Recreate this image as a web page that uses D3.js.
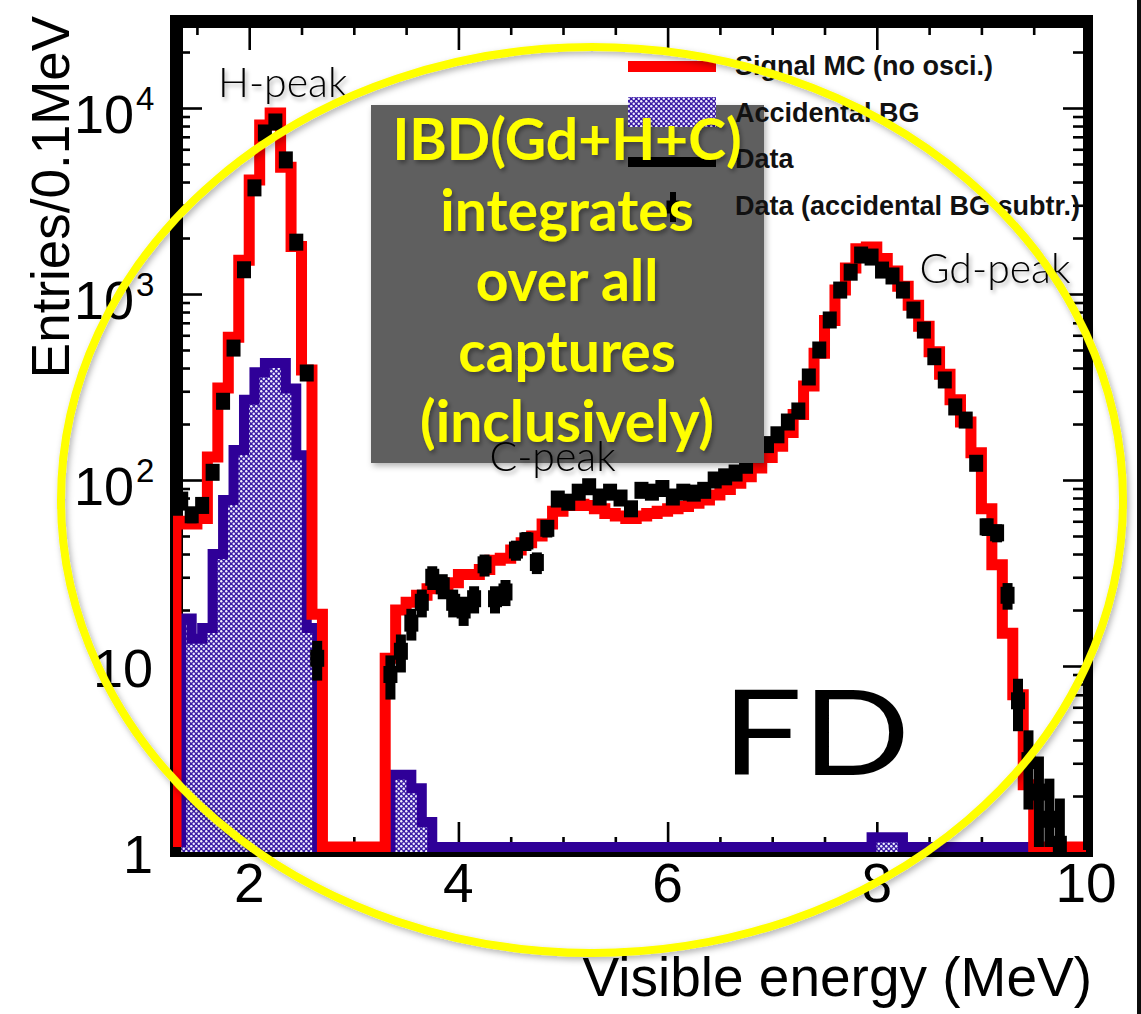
<!DOCTYPE html>
<html>
<head>
<meta charset="utf-8">
<script src="https://cdn.jsdelivr.net/npm/d3@7"></script>
<style>
  body { margin: 0; background: #fff; }
  svg { display: block; }
</style>
</head>
<body>
<svg id="chart" width="1141" height="1014"></svg>
<script>
// ---- data: entries per 0.1 MeV bin ----
const binWidth = 0.1;
const histStart = 1.3;          // first bin low edge of MC and data (MeV)
const bgStart = 1.35;           // first bin low edge of accidental BG (MeV)

const signalMC = [
  60, 58, 62, 133, 312, 586, 1520, 4100, 8100, 9400, 4800, 1800, 390, 19,
  0, 0, 0, 0, 0, 0,
  11, 20, 22, 24, 26, 27, 28, 31, 31, 33,
  37, 38, 42, 46, 50, 58, 68, 73, 74, 73,
  70, 66, 64, 62, 64, 66, 68, 70, 72, 75,
  78, 83, 89, 96, 104, 116, 132, 152, 180, 225,
  320, 480, 720, 1050, 1380, 1750, 1790, 1550, 1330, 1100,
  870, 670, 490, 370, 270, 205, 140, 70, 35, 15,
  7, 2.3, 0, 0, 0, 0, 0
];

const dataCounts = [
  78, 65, 73, 110, 265, 512, 1350, 3720, 7340, 8410, 5260, 1900, 376, 11,
  0, 0, 0, 0, 0, 0,
  9, 12, 17, 22, 30, 27, 22, 20, 23, 35,
  23, 25, 42, 47, 36, 55, 79, 76, 86, 92,
  81, 86, 80, 70, 88, 86, 90, 81, 86, 85,
  88, 100, 104, 109, 120, 137, 155, 175, 205, 235,
  358, 500, 725, 1050, 1310, 1620, 1580, 1345, 1250, 1050,
  820, 640, 460, 345, 247, 210, 123, 56, 52, 24,
  6.5, 3.1, 2.1, 1.5, 1.1, 0, 0
];

const accidentalBG = [
  18, 14, 16, 40, 78, 145, 270, 380, 425, 425, 310, 136, 16,
  0, 0, 0, 0, 0, 0, 0,
  2.6, 2.6, 2.2, 1.45,
  0, 0, 0, 0, 0, 0, 0, 0, 0, 0,
  0, 0, 0, 0, 0, 0, 0, 0, 0, 0,
  0, 0, 0, 0, 0, 0, 0, 0, 0, 0,
  0, 0, 0, 0, 0, 0, 0, 0, 0, 0,
  0, 0,
  1.2, 1.2, 1.2,
  0, 0, 0, 0, 0, 0, 0, 0, 0, 0,
  0, 0, 0, 0, 0, 0, 0
];

const xMajorTicks = [2, 4, 6, 8, 10];
const xMinorTicks = [1.5, 2.5, 3, 3.5, 4.5, 5, 5.5, 6.5, 7, 7.5, 8.5, 9, 9.5];
const yMajorTicks = [1, 10, 100, 1000, 10000];
const yLabels = ["1", "10", "10^2", "10^3", "10^4"];

const legendItems = ["Signal MC (no osci.)", "Accidental BG", "Data", "Data (accidental BG subtr.)"];
const boxLines = ["IBD(Gd+H+C)", "integrates", "over all", "captures", "(inclusively)"];
const peakLabels = [
  { text: "H-peak", e: 2.32, v: 11450 },
  { text: "C-peak", e: 4.90, v: 112 },
  { text: "Gd-peak", e: 9.13, v: 1150 }
];

// ---- scales ----
const x = d3.scaleLinear().domain([1.3, 10]).range([176, 1086]);
const y = d3.scaleLog().domain([1, 29000]).range([852, 22]).clamp(true);
const yBottom = y.range()[0];
const floorY = yBottom - 5;                 // empty bins sit on the frame floor
const yv = v => (v > 0 ? Math.min(y(v), floorY) : floorY);
const errHalf = v => 0.8 * Math.sqrt(v);   // drawn half-length of the error bar

const svg = d3.select("#chart");
const defs = svg.append("defs");

// dotted hatch for the accidental background
const pat = defs.append("pattern").attr("id", "bgdots")
  .attr("patternUnits", "userSpaceOnUse").attr("width", 5).attr("height", 5);
pat.append("rect").attr("width", 5).attr("height", 5).attr("fill", "#3a1aa6");
pat.append("circle").attr("cx", 1.25).attr("cy", 1.25).attr("r", 1.2).attr("fill", "#f2f0ff");
pat.append("circle").attr("cx", 3.75).attr("cy", 3.75).attr("r", 1.2).attr("fill", "#f2f0ff");

defs.append("clipPath").attr("id", "plotclip")
  .append("rect").attr("x", 173).attr("y", 22).attr("width", 914).attr("height", 830);

const shadow = defs.append("filter").attr("id", "shadow")
  .attr("x", "-20%").attr("y", "-20%").attr("width", "140%").attr("height", "140%");
shadow.append("feDropShadow").attr("dx", 2).attr("dy", 3).attr("stdDeviation", 2.2)
  .attr("flood-color", "#000").attr("flood-opacity", 0.35);

const softShadow = defs.append("filter").attr("id", "softshadow")
  .attr("x", "-10%").attr("y", "-10%").attr("width", "120%").attr("height", "120%");
softShadow.append("feDropShadow").attr("dx", 2).attr("dy", 3).attr("stdDeviation", 3)
  .attr("flood-color", "#000").attr("flood-opacity", 0.3);

// ---- frame ----
const frame = svg.append("g");
frame.append("line").attr("x1", 176.5).attr("x2", 176.5).attr("y1", 15).attr("y2", 857)
  .attr("stroke", "#000").attr("stroke-width", 13);
frame.append("line").attr("x1", 170).attr("x2", 1093).attr("y1", 21.5).attr("y2", 21.5)
  .attr("stroke", "#000").attr("stroke-width", 13);
frame.append("line").attr("x1", 1088).attr("x2", 1088).attr("y1", 15).attr("y2", 857)
  .attr("stroke", "#000").attr("stroke-width", 10);
frame.append("line").attr("x1", 170).attr("x2", 1093).attr("y1", 854.5).attr("y2", 854.5)
  .attr("stroke", "#000").attr("stroke-width", 5);

// ---- ticks (inside the frame) ----
function tickAxis(axis, transform, size, values) {
  const g = svg.append("g").attr("transform", transform)
    .call(axis.tickValues(values).tickSize(size).tickFormat(""));
  g.select(".domain").remove();
  g.selectAll(".tick line").attr("stroke", "#000").attr("stroke-width", 2.6);
  return g;
}
const yMinorTicks = [];
for (let d = 1; d <= 10000; d *= 10) for (let m = 2; m <= 9; m++) if (m * d < 29000) yMinorTicks.push(m * d);

tickAxis(d3.axisTop(x), "translate(0,852)", 30, xMajorTicks);
tickAxis(d3.axisTop(x), "translate(0,852)", 15, xMinorTicks);
tickAxis(d3.axisBottom(x), "translate(0,28)", 22, xMajorTicks);
tickAxis(d3.axisBottom(x), "translate(0,28)", 7, xMinorTicks);
tickAxis(d3.axisRight(y), "translate(182,0)", 20, yMajorTicks);
tickAxis(d3.axisRight(y), "translate(182,0)", 8, yMinorTicks);
tickAxis(d3.axisLeft(y), "translate(1083,0)", 20, yMajorTicks);
tickAxis(d3.axisLeft(y), "translate(1083,0)", 10, yMinorTicks);

// ---- tick labels ----
const labelFont = "'Liberation Sans', Arial, Helvetica, sans-serif";
svg.append("g").selectAll("text").data(xMajorTicks).join("text")
  .attr("x", d => x(d)).attr("y", 902)
  .attr("text-anchor", "middle").attr("font-family", labelFont).attr("font-size", 55)
  .text(d => d);

const yl = svg.append("g").attr("font-family", labelFont);
yMajorTicks.forEach((t, i) => {
  const lab = yLabels[i];
  const ty = y(t);
  if (lab.includes("^")) {
    const [base, exp] = lab.split("^");
    yl.append("text").attr("x", 134).attr("y", ty + 25).attr("text-anchor", "end")
      .attr("font-size", 54).text(base);
    yl.append("text").attr("x", 136).attr("y", ty + 2).attr("font-size", 33).text(exp);
  } else {
    yl.append("text").attr("x", 153).attr("y", ty + 21).attr("text-anchor", "end")
      .attr("font-size", 54).text(lab);
  }
});

// axis titles
svg.append("text").attr("transform", "translate(69,197) rotate(-90)")
  .attr("text-anchor", "middle").attr("font-family", labelFont).attr("font-size", 53)
  .text("Entries/0.1MeV");
svg.append("text").attr("x", 1092).attr("y", 996).attr("text-anchor", "end")
  .attr("font-family", labelFont).attr("font-size", 55)
  .text("Visible energy (MeV)");

// ---- histograms ----
function stepPath(start, vals) {
  const p = d3.path();
  p.moveTo(x(start), floorY);
  vals.forEach((v, i) => {
    const x0 = x(start + i * binWidth), x1 = x(start + (i + 1) * binWidth);
    p.lineTo(x0, yv(v));
    p.lineTo(x1, yv(v));
  });
  p.lineTo(x(start + vals.length * binWidth), floorY);
  return p.toString();
}

const plot = svg.append("g").attr("clip-path", "url(#plotclip)");

const bgPath = stepPath(bgStart, accidentalBG);
const bgEnd = x(bgStart + accidentalBG.length * binWidth);
plot.append("path")
  .attr("d", bgPath + `L${bgEnd},${yBottom}L${x(bgStart)},${yBottom}Z`)
  .attr("fill", "url(#bgdots)");
plot.append("path").attr("d", bgPath).attr("fill", "none")
  .attr("stroke", "#2f0098").attr("stroke-width", 10).attr("stroke-linejoin", "miter");

plot.append("path").attr("d", stepPath(histStart, signalMC)).attr("fill", "none")
  .attr("stroke", "#ff0000").attr("stroke-width", 11).attr("stroke-linejoin", "miter");

// data points with error bars
const pts = dataCounts.map((v, i) => ({ e: histStart + (i + 0.5) * binWidth, v }))
  .filter(d => d.v > 0);
const dataG = plot.append("g");
dataG.selectAll("line.ex").data(pts).join("line").attr("class", "ex")
  .attr("x1", d => x(d.e - binWidth / 2)).attr("x2", d => x(d.e + binWidth / 2))
  .attr("y1", d => yv(d.v)).attr("y2", d => yv(d.v))
  .attr("stroke", "#000").attr("stroke-width", 7);
dataG.selectAll("line.ey").data(pts).join("line").attr("class", "ey")
  .attr("x1", d => x(d.e)).attr("x2", d => x(d.e))
  .attr("y1", d => yv(d.v - errHalf(d.v))).attr("y2", d => yv(d.v + errHalf(d.v)))
  .attr("stroke", "#000").attr("stroke-width", 10);
dataG.selectAll("rect").data(pts).join("rect")
  .attr("x", d => x(d.e) - 7).attr("y", d => yv(d.v) - 8.5)
  .attr("width", 14).attr("height", 17).attr("fill", "#000");

// ---- annotation box ----
svg.append("rect").attr("x", 371).attr("y", 105).attr("width", 393).attr("height", 358)
  .attr("fill", "#5f5f5f").attr("filter", "url(#softshadow)");

// ---- legend ----
const lg = svg.append("g");
lg.append("rect").attr("x", 628).attr("y", 61).attr("width", 88).attr("height", 11).attr("fill", "#ff0000");
lg.append("rect").attr("x", 628).attr("y", 97).attr("width", 88).attr("height", 30).attr("fill", "url(#bgdots)");
lg.append("rect").attr("x", 628).attr("y", 157).attr("width", 88).attr("height", 10).attr("fill", "#000");
lg.append("line").attr("x1", 673).attr("x2", 673).attr("y1", 192).attr("y2", 222)
  .attr("stroke", "#000").attr("stroke-width", 6);
lg.append("rect").attr("x", 666.5).attr("y", 200.5).attr("width", 13).attr("height", 13).attr("fill", "#000");
lg.selectAll("text").data(legendItems).join("text")
  .attr("x", 735).attr("y", (d, i) => 75 + i * 46.5)
  .attr("font-family", labelFont).attr("font-weight", "bold").attr("font-size", 27)
  .attr("fill", "#111").text(d => d);
// right frame edge stays on top of the legend text
svg.append("line").attr("x1", 1088).attr("x2", 1088).attr("y1", 15).attr("y2", 850)
  .attr("stroke", "#000").attr("stroke-width", 10);

// box text
svg.append("g").selectAll("text").data(boxLines).join("text")
  .attr("x", 567).attr("y", (d, i) => 160 + i * 70.5)
  .attr("text-anchor", "middle").attr("font-family", "Lato, 'Open Sans', sans-serif")
  .attr("font-weight", "bold").attr("font-size", 57).attr("fill", "#ffff00")
  .attr("filter", "url(#shadow)")
  .text(d => d);

// peak labels
svg.append("g").selectAll("text").data(peakLabels).join("text")
  .attr("x", d => x(d.e)).attr("y", d => y(d.v))
  .attr("text-anchor", "middle").attr("font-family", "Lato, 'Open Sans', sans-serif")
  .attr("font-weight", 300).attr("font-size", 41).attr("fill", "#000")
  .attr("filter", "url(#shadow)")
  .text(d => d.text);

// detector label
svg.append("text").attr("x", 722).attr("y", 775)
  .attr("font-family", "Lato, 'Open Sans', sans-serif").attr("font-weight", 400)
  .attr("font-size", 118).attr("fill", "#000")
  .attr("textLength", 188).attr("lengthAdjust", "spacingAndGlyphs")
  .text("FD");

// highlight ellipse
svg.append("ellipse").attr("cx", 592).attr("cy", 500).attr("rx", 531).attr("ry", 453)
  .attr("fill", "none").attr("stroke", "#ffff00").attr("stroke-width", 8)
  .attr("filter", "url(#softshadow)");

// dark slide edge
svg.append("rect").attr("x", 1137).attr("y", 0).attr("width", 4).attr("height", 1014).attr("fill", "#0d0d0d");
</script>
</body>
</html>
